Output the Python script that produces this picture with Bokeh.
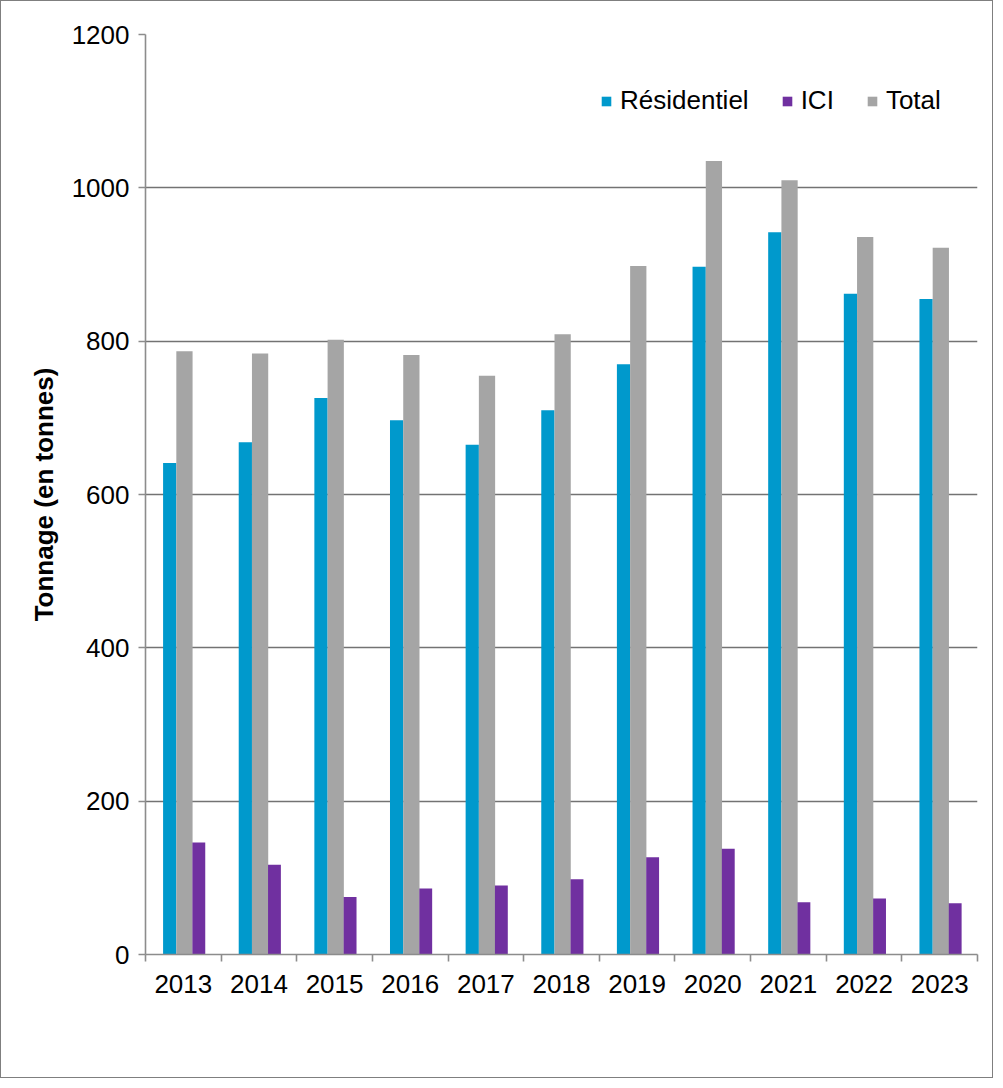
import numpy as np
from bokeh.plotting import figure
from bokeh.models import Range1d, FixedTicker, Legend, LegendItem, ColumnDataSource
from bokeh.embed import file_html
from bokeh.resources import INLINE

years = ["2013", "2014", "2015", "2016", "2017", "2018", "2019", "2020", "2021", "2022", "2023"]
residentiel = [641, 668, 726, 697, 665, 710, 770, 897, 942, 862, 855]
ici = [146, 117, 75, 86, 90, 98, 127, 138, 68, 73, 67]
total = [787, 784, 802, 782, 755, 809, 898, 1035, 1010, 936, 922]
y_ticks = [0, 200, 400, 600, 800, 1000, 1200]

idx = np.arange(len(years))
centers = idx + 0.5

src = ColumnDataSource(dict(
    xr=centers - 0.18, xt=centers + 0.015, xi=centers + 0.205,
    res=residentiel, ici=ici, tot=total))

FONT = "Liberation Sans"
FS = "26px"

p = figure(width=993, height=1078, output_backend="svg", toolbar_location=None,
           x_range=Range1d(0, len(years)), y_range=Range1d(0, 1200),
           min_border_left=144, min_border_right=17, min_border_top=33, min_border_bottom=125)
p.styles = {"border": "1px solid #7f7f7f"}
p.outline_line_color = None
p.background_fill_color = "white"
p.border_fill_color = "white"

r1 = p.vbar(x="xr", top="res", width=0.175, source=src, fill_color="#0099CC", line_color=None)
r3 = p.vbar(x="xt", top="tot", width=0.215, source=src, fill_color="#A5A5A5", line_color=None)
r2 = p.vbar(x="xi", top="ici", width=0.17, source=src, fill_color="#7030A0", line_color=None)

# axes
p.xgrid.grid_line_color = None
p.ygrid.grid_line_color = "#737373"
p.ygrid.grid_line_width = 1.6
p.ygrid.ticker = FixedTicker(ticks=y_ticks)

p.yaxis.ticker = FixedTicker(ticks=y_ticks)
p.yaxis.axis_line_color = "#8c8c8c"
p.yaxis.axis_line_width = 1.6
p.yaxis.major_tick_line_color = "#8c8c8c"
p.yaxis.major_tick_line_width = 1.6
p.yaxis.major_tick_out = 7
p.yaxis.major_tick_in = 0
p.yaxis.minor_tick_line_color = None
p.yaxis.major_label_text_font = FONT
p.yaxis.major_label_text_font_size = FS
p.yaxis.major_label_text_color = "black"
p.yaxis.major_label_standoff = 9
p.yaxis.axis_label = "Tonnage (en tonnes)"
p.yaxis.axis_label_text_font = FONT
p.yaxis.axis_label_text_font_size = FS
p.yaxis.axis_label_text_font_style = "bold"
p.yaxis.axis_label_text_color = "black"
p.yaxis.axis_label_standoff = 10

p.xaxis.ticker = FixedTicker(ticks=list(centers), minor_ticks=list(np.arange(len(years) + 1)))
p.xaxis.major_label_overrides = {float(c): y for c, y in zip(centers, years)}
p.xaxis.axis_line_color = "#8c8c8c"
p.xaxis.axis_line_width = 1.6
p.xaxis.major_tick_line_color = None
p.xaxis.major_tick_out = 0
p.xaxis.major_tick_in = 0
p.xaxis.minor_tick_line_color = "#8c8c8c"
p.xaxis.minor_tick_line_width = 1.6
p.xaxis.minor_tick_out = 7
p.xaxis.minor_tick_in = 0
p.xaxis.major_label_text_font = FONT
p.xaxis.major_label_text_font_size = FS
p.xaxis.major_label_text_color = "black"
p.xaxis.major_label_standoff = 13

legend = Legend(items=[
    LegendItem(label="Résidentiel", renderers=[r1]),
    LegendItem(label="ICI", renderers=[r2]),
    LegendItem(label="Total", renderers=[r3]),
], orientation="horizontal", location=(455, 838))
legend.glyph_width = 12
legend.glyph_height = 12
legend.label_standoff = 8
legend.spacing = 32
legend.padding = 0
legend.margin = 0
legend.border_line_color = None
legend.background_fill_alpha = 0
legend.label_text_font = FONT
legend.label_text_font_size = FS
legend.label_text_color = "black"
p.add_layout(legend, "center")

open("out.html", "w").write(file_html(p, INLINE))
